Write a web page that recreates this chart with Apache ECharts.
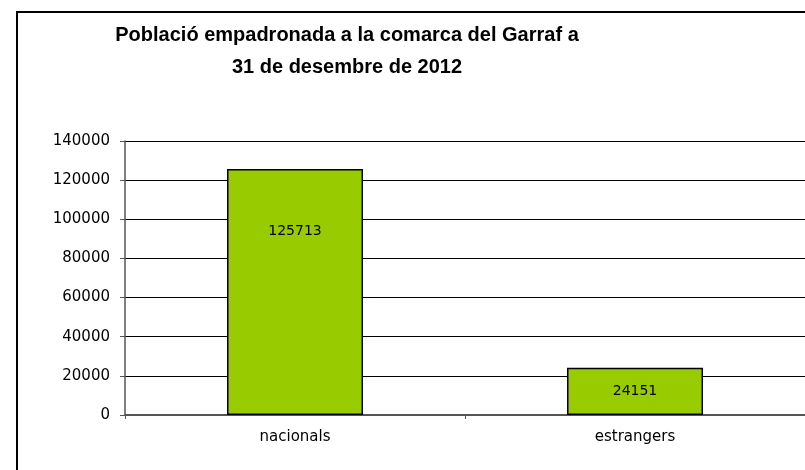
<!DOCTYPE html>
<html><head><meta charset="utf-8">
<script src="https://cdn.jsdelivr.net/npm/echarts@6/dist/echarts.min.js"></script>
<style>html,body{margin:0;padding:0;background:#fff}#c{width:805px;height:470px}</style>
</head><body><div id="c"></div>
<script>
var categories = ['nacionals', 'estrangers'];
var values = [125713, 24151];
var titleLines = ['Població empadronada a la comarca del Garraf a', '31 de desembre de 2012'];
var yMin = 0, yMax = 140000, yStep = 20000;

var chart = echarts.init(document.getElementById('c'), null, {renderer: 'canvas'});
var labelPos = [{position: 'insideTop', distance: 55}, {position: 'inside'}];
chart.setOption({
  animation: false,
  backgroundColor: '#fff',
  title: {
    text: titleLines.join('\n'),
    left: 347, top: 19, padding: 0, textAlign: 'center',
    textStyle: {fontFamily: 'Liberation Sans', fontWeight: 'bold', fontSize: 20, lineHeight: 32, color: '#000'}
  },
  graphic: [{
    type: 'rect', shape: {x: 17, y: 12, width: 900, height: 600},
    style: {fill: 'none', stroke: '#000', lineWidth: 2}, silent: true
  }],
  grid: {left: 125, top: 141, width: 682, bottom: 55, containLabel: false},
  xAxis: {
    type: 'category', data: categories,
    axisLine: {lineStyle: {color: '#555', width: 2}},
    axisTick: {show: true, alignWithLabel: false, length: 4, lineStyle: {color: '#555'}},
    axisLabel: {fontFamily: 'DejaVu Sans', fontSize: 15, color: '#000', margin: 15}
  },
  yAxis: {
    type: 'value', min: yMin, max: yMax, interval: yStep,
    axisLine: {show: true, lineStyle: {color: '#555', width: 1.5}},
    axisTick: {show: true, length: 5, lineStyle: {color: '#555'}},
    axisLabel: {fontFamily: 'DejaVu Sans', fontSize: 15, color: '#000', margin: 15,
      formatter: function (v) { return String(v); }},
    splitLine: {lineStyle: {color: '#000', width: 1}}
  },
  series: [{
    type: 'bar', barWidth: 136,
    data: values.map(function (v, i) {
      return {value: v, label: labelPos[i]};
    }),
    itemStyle: {color: '#99CC00', borderColor: '#000', borderWidth: 1.5},
    label: {show: true, color: '#000', fontFamily: 'DejaVu Sans', fontSize: 14}
  }]
});
</script></body></html>
